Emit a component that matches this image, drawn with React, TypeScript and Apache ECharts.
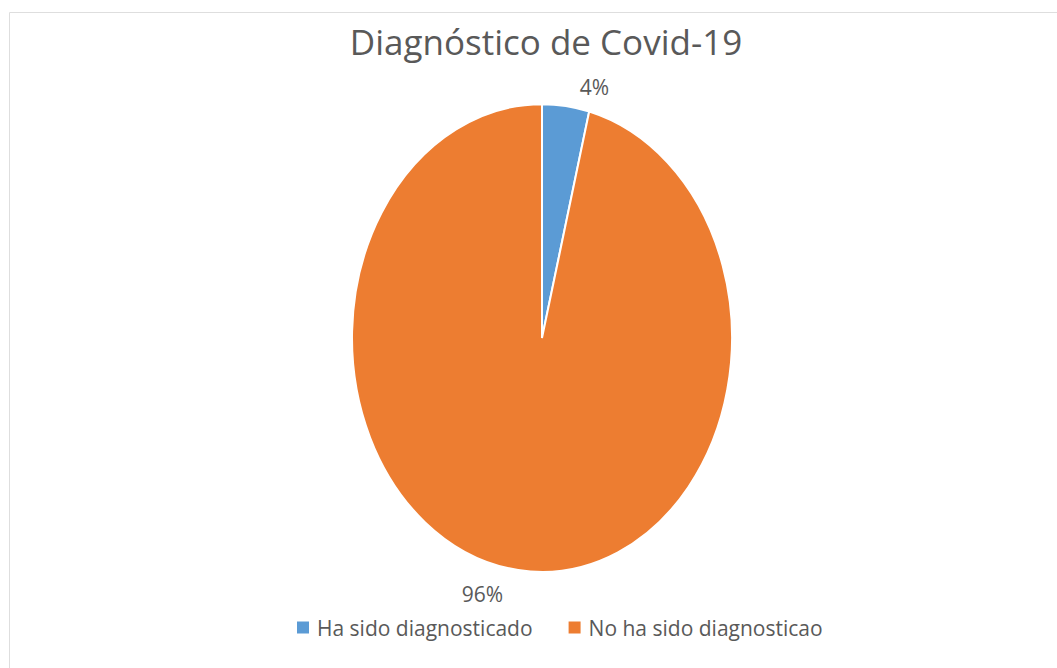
import React, { useEffect, useRef } from "react";
import * as echarts from "echarts";

const titleText = "Diagnóstico de Covid-19";
const categories = ["Ha sido diagnosticado", "No ha sido diagnosticao"];
const values = [4, 96];
const colors = ["#5B9BD5", "#ED7D31"];

const FONT = '"Open Sans", "Noto Sans", sans-serif';
const TEXT_COLOR = "#595959";

// Ellipse geometry of the pie (the plot area is taller than it is wide)
const CX = 542;
const CY = 338;
const RX = 190;
const RY = 234;

const total = values.reduce((a, b) => a + b, 0);

function sliceSeries(index: number) {
  const before = values.slice(0, index).reduce((a, b) => a + b, 0);
  return {
    type: "custom",
    name: categories[index],
    coordinateSystem: "none",
    color: colors[index],
    itemStyle: { color: colors[index] },
    data: [values[index]],
    renderItem: (_params: any, api: any) => {
      const v = api.value(0) as number;
      const startFrac = before / total;
      const endFrac = (before + v) / total;
      const startAngle = -Math.PI / 2 + startFrac * Math.PI * 2;
      const endAngle = -Math.PI / 2 + endFrac * Math.PI * 2;
      const mid = ((startFrac + endFrac) / 2) * Math.PI * 2;
      const s = Math.sin(mid);
      const c = Math.cos(mid);
      const px = CX + RX * s;
      const py = CY - RY * c;
      const right = s >= 0;
      const upper = c >= 0;
      return {
        type: "group",
        children: [
          {
            type: "sector",
            x: CX,
            y: CY,
            scaleY: RY / RX,
            shape: { cx: 0, cy: 0, r0: 0, r: RX, startAngle, endAngle, clockwise: true },
            style: { fill: colors[index], stroke: "#ffffff", lineWidth: 2, strokeNoScale: true },
          },
          {
            type: "text",
            x: px + (right ? 14 : -15),
            y: py + (upper ? -8 : 13),
            style: {
              text: Math.round((v / total) * 100) + "%",
              fill: TEXT_COLOR,
              fontSize: 21,
              fontFamily: FONT,
              align: right ? "left" : "right",
              verticalAlign: upper ? "bottom" : "top",
            },
          },
        ],
      };
    },
  };
}

export default function App() {
  const ref = useRef<HTMLDivElement>(null);

  useEffect(() => {
    if (!ref.current) return;
    const chart = echarts.init(ref.current, undefined, { renderer: "svg" });
    chart.setOption({
      animation: false,
      backgroundColor: "#ffffff",
      title: {
        text: titleText,
        left: 541,
        textAlign: "center",
        top: 19,
        textStyle: { fontSize: 35, fontWeight: "normal", color: TEXT_COLOR, fontFamily: FONT },
      },
      legend: {
        data: categories,
        left: 292,
        top: 612,
        icon: "rect",
        itemWidth: 12,
        itemHeight: 12,
        itemGap: 36,
        textStyle: { fontSize: 21, color: TEXT_COLOR, fontFamily: FONT, padding: [0, 0, 0, 3] },
      },
      graphic: [
        {
          type: "rect",
          shape: { x: 9.5, y: 12.5, width: 1100, height: 700 },
          style: { fill: "none", stroke: "#dedede", lineWidth: 1 },
          silent: true,
        },
      ],
      series: categories.map((_, i) => sliceSeries(i)),
    });
    return () => chart.dispose();
  }, []);

  return (
    <div
      ref={ref}
      style={{ position: "fixed", left: 0, top: 0, width: 1057, height: 668 }}
    />
  );
}
